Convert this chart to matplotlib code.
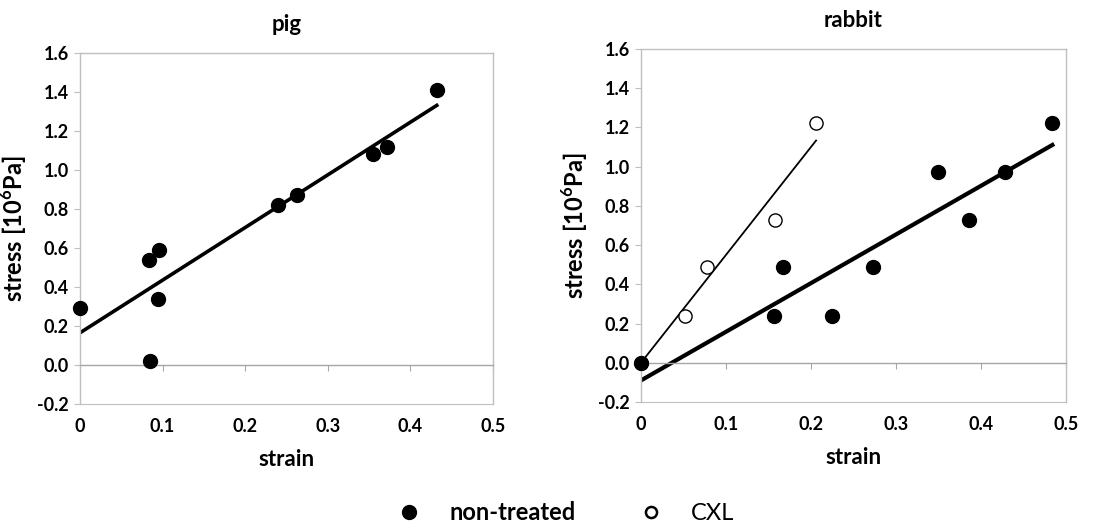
import matplotlib
matplotlib.use("Agg")
import matplotlib.pyplot as plt
import numpy as np
from matplotlib.lines import Line2D

plt.rcParams["font.family"] = ["Lato", "DejaVu Sans"]
plt.rcParams["mathtext.fontset"] = "custom"
plt.rcParams["mathtext.bf"] = "Lato:bold"
plt.rcParams["mathtext.rm"] = "Lato:bold"

# pig, non-treated
pig_strain = [0.0, 0.083, 0.085, 0.094, 0.096, 0.240, 0.263, 0.355, 0.372, 0.432]
pig_stress = [0.29, 0.54, 0.02, 0.34, 0.59, 0.82, 0.87, 1.08, 1.12, 1.41]
pig_fit = (2.70, 0.165)          # slope, intercept as drawn

# rabbit, non-treated
rab_strain = [0.0, 0.157, 0.167, 0.225, 0.273, 0.350, 0.386, 0.428, 0.484]
rab_stress = [0.0, 0.24, 0.49, 0.24, 0.49, 0.97, 0.73, 0.97, 1.22]
rab_fit = (2.48, -0.09)

# rabbit, CXL
cxl_strain = [0.0, 0.052, 0.078, 0.158, 0.206]
cxl_stress = [0.0, 0.24, 0.49, 0.73, 1.22]
cxl_fit = (5.50, 0.0)

xticks = [0, 0.1, 0.2, 0.3, 0.4, 0.5]
xtick_labels = ["0", "0.1", "0.2", "0.3", "0.4", "0.5"]
yticks = [-0.2, 0.0, 0.2, 0.4, 0.6, 0.8, 1.0, 1.2, 1.4, 1.6]
ytick_labels = [f"{v:.1f}" for v in yticks]

GRAY = "#bfbfbf"


def style(ax, title):
    ax.set_xlim(0, 0.5); ax.set_ylim(-0.2, 1.6)
    for s in ax.spines.values():
        s.set_color(GRAY); s.set_linewidth(1.0)
    ax.spines["bottom"].set_position(("data", 0))
    ax.spines["bottom"].set_color("#a6a6a6")
    ax.set_xticks(xticks); ax.set_xticklabels([])
    ax.tick_params(axis="x", direction="out", length=4, color="#a6a6a6")
    ax.set_yticks(yticks); ax.set_yticklabels(ytick_labels, fontweight="bold", fontsize=13)
    ax.tick_params(axis="y", direction="out", length=4, color=GRAY, pad=4)
    sec = ax.secondary_xaxis(0)
    sec.set_xticks(xticks); sec.set_xticklabels(xtick_labels, fontweight="bold", fontsize=13)
    sec.tick_params(length=0, pad=10)
    sec.spines["bottom"].set_color(GRAY)
    sec.set_xlabel("strain", fontweight="bold", fontsize=16, labelpad=10)
    ax.set_ylabel("stress [10$^{6}$Pa]", fontweight="bold", fontsize=17, labelpad=6)
    ax.set_title(title, fontweight="bold", fontsize=16, pad=16)


def fit_line(ax, xs, fit, lw):
    x = np.array([0.0, max(xs)])
    ax.plot(x, fit[0] * x + fit[1], color="black", lw=lw, zorder=2)


fig = plt.figure(figsize=(11.09, 5.27), dpi=100)
ax1 = fig.add_axes([0.0721, 0.2334, 0.3724, 0.666])
ax2 = fig.add_axes([0.578, 0.2372, 0.3832, 0.670])

style(ax1, "pig")
fit_line(ax1, pig_strain, pig_fit, 2.6)
ax1.scatter(pig_strain, pig_stress, s=100, color="black", zorder=3, clip_on=False)

style(ax2, "rabbit")
fit_line(ax2, rab_strain, rab_fit, 3.0)
fit_line(ax2, cxl_strain, cxl_fit, 1.3)
ax2.scatter(cxl_strain, cxl_stress, s=90, facecolor="white", edgecolor="black", lw=1.0, zorder=3, clip_on=False)
ax2.scatter(rab_strain, rab_stress, s=100, color="black", zorder=4, clip_on=False)

handles = [Line2D([], [], ls="none", marker="o", ms=10, color="black"),
           Line2D([], [], ls="none", marker="o", ms=8, mfc="white", mec="black", mew=1.8)]
leg = fig.legend(handles, ["non-treated", "CXL"], loc="lower center", ncol=2, frameon=False,
                 bbox_to_anchor=(0.505, -0.035), fontsize=17, columnspacing=2.2, handletextpad=0.7)
leg.get_texts()[0].set_fontweight("bold")

fig.savefig("out.png", dpi=100)
